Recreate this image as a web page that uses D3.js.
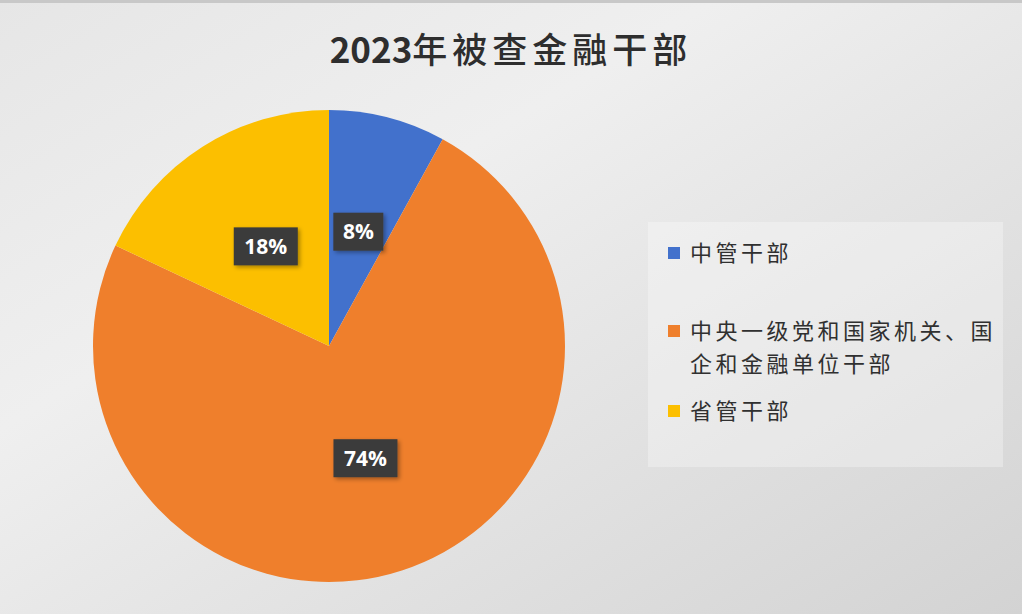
<!DOCTYPE html>
<html>
<head>
<meta charset="utf-8">
<script src="https://cdn.jsdelivr.net/npm/d3@7"></script>
<style>
  html, body { margin: 0; padding: 0; }
  body { width: 1022px; height: 614px; overflow: hidden; }
</style>
</head>
<body>
<div id="chart"></div>
<script>
// data
var titleYear = "2023";
var titleText = "年被查金融干部";
var categories = ["中管干部", "中央一级党和国家机关、国企和金融单位干部", "省管干部"];
var legendLines = [["中管干部"], ["中央一级党和国家机关、国", "企和金融单位干部"], ["省管干部"]];
var values = [8, 74, 18];
var colors = ["#4271cc", "#ef7f2c", "#fcbf00"];

var width = 1022, height = 614;
var cx = 329, cy = 346, R = 236;

var svg = d3.select("#chart").append("svg")
  .attr("width", width)
  .attr("height", height);

// background gradient
var defs = svg.append("defs");
var bg = defs.append("linearGradient").attr("id", "bg")
  .attr("x1", "0").attr("y1", "0").attr("x2", "1").attr("y2", "1");
bg.append("stop").attr("offset", "0").attr("stop-color", "#e6e6e6");
bg.append("stop").attr("offset", "0.35").attr("stop-color", "#efefef");
bg.append("stop").attr("offset", "1").attr("stop-color", "#d3d3d3");

var shadow = defs.append("filter").attr("id", "shadow")
  .attr("x", "-20%").attr("y", "-20%").attr("width", "150%").attr("height", "150%");
shadow.append("feDropShadow").attr("dx", 2).attr("dy", 2).attr("stdDeviation", 2)
  .attr("flood-color", "#000").attr("flood-opacity", 0.35);

svg.append("rect").attr("width", width).attr("height", height).attr("fill", "url(#bg)");
svg.append("rect").attr("width", width).attr("height", 3).attr("fill", "#c8c8c8");

// title
var title = svg.append("text")
  .attr("x", 511).attr("y", 63)
  .attr("text-anchor", "middle")
  .attr("font-family", "'Noto Sans CJK SC', 'Noto Sans', sans-serif")
  .attr("font-size", 35)
  .attr("fill", "#2e2e2e");
title.append("tspan").attr("font-weight", "bold").text(titleYear);
title.append("tspan").attr("font-weight", 500).attr("letter-spacing", 5).text(titleText);

// pie
var pie = d3.pie().sort(null).value(function(d) { return d; });
var arcs = pie(values);
var arc = d3.arc().innerRadius(0).outerRadius(R);
var labelArc = d3.arc().innerRadius(R * 0.5).outerRadius(R * 0.5);

var g = svg.append("g").attr("transform", "translate(" + cx + "," + cy + ")");

g.selectAll("path.slice")
  .data(arcs)
  .enter().append("path")
  .attr("class", "slice")
  .attr("d", arc)
  .attr("fill", function(d, i) { return colors[i]; });

// data labels
var labels = g.selectAll("g.lbl")
  .data(arcs)
  .enter().append("g")
  .attr("class", "lbl")
  .attr("transform", function(d) { return "translate(" + labelArc.centroid(d) + ")"; });

labels.append("rect")
  .attr("x", function(d) { return d.data < 10 ? -25 : -32; })
  .attr("y", -19)
  .attr("width", function(d) { return d.data < 10 ? 50 : 64; })
  .attr("height", 38)
  .attr("fill", "#3a3a3a")
  .attr("filter", "url(#shadow)");

labels.append("text")
  .attr("text-anchor", "middle")
  .attr("dy", "0.36em")
  .attr("font-family", "'Open Sans', 'Noto Sans', sans-serif")
  .attr("font-weight", "bold")
  .attr("font-size", 21)
  .attr("fill", "#ffffff")
  .text(function(d) { return d.data + "%"; });

// legend
svg.append("rect")
  .attr("x", 648).attr("y", 222)
  .attr("width", 355).attr("height", 245)
  .attr("fill", "#ffffff").attr("fill-opacity", 0.3);

var legendY = [253, 331, 411];
var legend = svg.selectAll("g.leg")
  .data(categories)
  .enter().append("g")
  .attr("class", "leg")
  .attr("transform", function(d, i) { return "translate(668," + legendY[i] + ")"; });

legend.append("rect")
  .attr("x", 0).attr("y", -6)
  .attr("width", 12).attr("height", 12)
  .attr("fill", function(d, i) { return colors[i]; });

legend.each(function(d, i) {
  var t = d3.select(this).append("text")
    .attr("font-family", "'Noto Sans CJK SC', sans-serif")
    .attr("font-size", 22)
    .attr("letter-spacing", 3.5)
    .attr("fill", "#303030");
  legendLines[i].forEach(function(line, j) {
    t.append("tspan")
      .attr("x", 22)
      .attr("y", j * 33)
      .attr("dy", "0.36em")
      .text(line);
  });
});
</script>
</body>
</html>
